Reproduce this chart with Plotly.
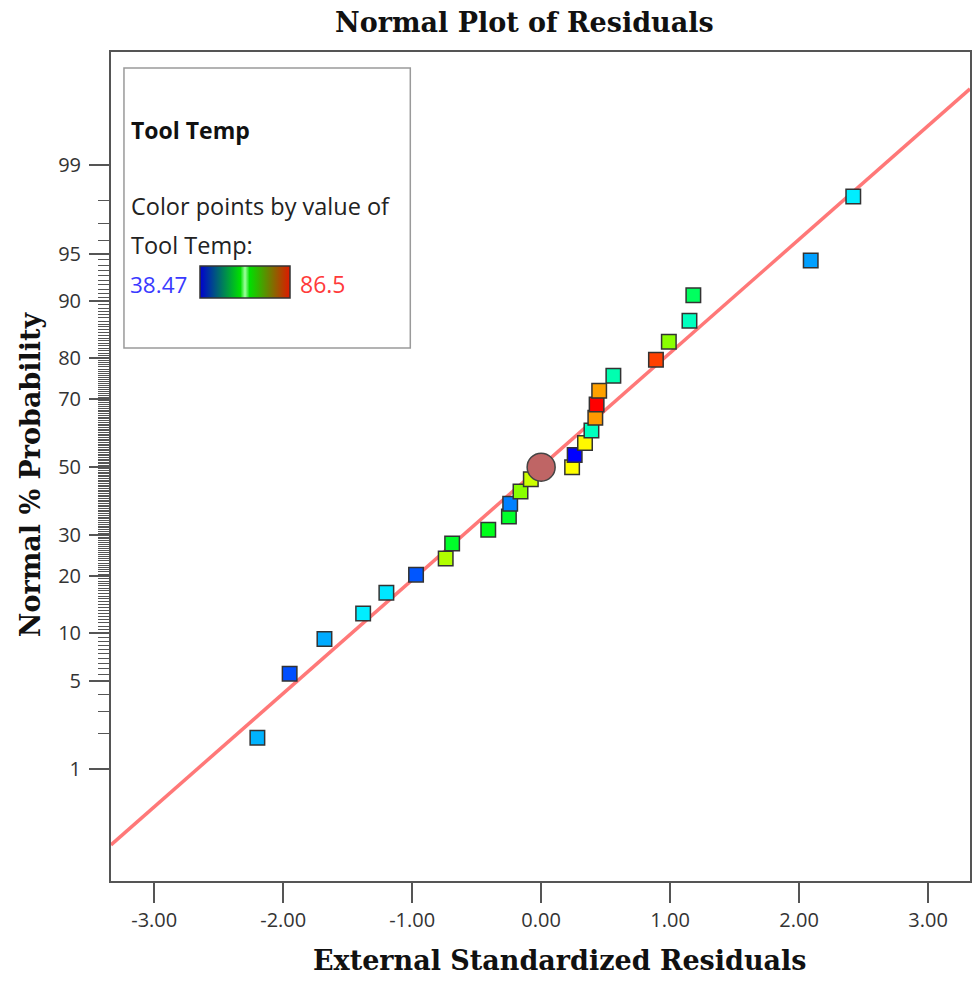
import statistics
import plotly.graph_objects as go

# --- data -------------------------------------------------------------------
# externally studentized residuals, sorted ascending
residuals = [-2.20, -1.95, -1.68, -1.38, -1.20, -0.97, -0.74, -0.69, -0.41,
             -0.25, -0.24, -0.16, -0.08, 0.24, 0.26, 0.34, 0.39, 0.42, 0.43,
             0.45, 0.56, 0.89, 0.99, 1.15, 1.18, 2.09, 2.42]
# normal % probability of each ranked residual
normal_pct = [1.85, 5.56, 9.26, 12.96, 16.67, 20.37, 24.07, 27.78, 31.48,
              35.19, 38.89, 42.59, 46.30, 50.00, 53.70, 57.41, 61.11, 64.81,
              68.52, 72.22, 75.93, 79.63, 83.33, 87.04, 90.74, 94.44, 98.15]
# Tool Temp of each run (colour variable)
tool_temp = [46.9, 42.2, 46.5, 49.7, 49.3, 42.5, 70.8, 60.5, 61.3,
             60.5, 44.5, 68.9, 72.1, 74.5, 38.47, 74.8, 53.5, 79.3, 86.5,
             78.9, 54.2, 83.5, 69.0, 53.5, 58.0, 46.0, 49.7]
temp_min, temp_max = 38.47, 86.5

# highlighted point
mark_resid, mark_pct = [0.0], [50.0]

# reference line (probit units vs residual)
line_slope, line_intercept = 0.875, 0.006

# axis ticks
x_tickvals = [-3, -2, -1, 0, 1, 2, 3]
x_ticktext = ["-3.00", "-2.00", "-1.00", "0.00", "1.00", "2.00", "3.00"]
y_major_pct = [1, 5, 10, 20, 30, 50, 70, 80, 90, 95, 99]

# --- helpers ----------------------------------------------------------------
nd = statistics.NormalDist()


def probit(p):
    return nd.inv_cdf(p / 100.0)


W, H = 976, 985
ML, MR, MT, MB = 111, 4, 52, 104
PW, PH = W - ML - MR, H - MT - MB
X_RANGE = [-3.335, 3.325]
Y_RANGE = [-3.19, 3.20]


def px_x(px):
    return (px - ML) / PW


def px_y(py):
    return (H - MB - py) / PH


# minor ticks: 2-4 %, half-percent steps 5-95 %, 96-98 %
minor_pct = [2, 3, 4]
k = 11
while k < 190:
    v = k / 2.0
    if v not in y_major_pct:
        minor_pct.append(v)
    k += 1
minor_pct += [96, 97, 98]

rainbow = [[0.0, "#0000ff"], [0.25, "#00ffff"], [0.5, "#00ff00"],
           [0.75, "#ffff00"], [1.0, "#ff0000"]]
legend_scale = [[0.0, "#0000d0"], [0.45, "#00e000"], [0.5, "#a0ffa0"],
                [0.55, "#00e000"], [1.0, "#e01800"]]

fig = go.Figure()

# reference line
fig.add_trace(go.Scatter(
    x=X_RANGE,
    y=[line_slope * v + line_intercept for v in X_RANGE],
    mode="lines", line=dict(color="#ff7878", width=3.5),
    hoverinfo="skip", showlegend=False))

# residual points coloured by Tool Temp
fig.add_trace(go.Scatter(
    x=residuals, y=[probit(p) for p in normal_pct], mode="markers",
    marker=dict(symbol="square", size=14.5, color=tool_temp,
                colorscale=rainbow, cmin=temp_min, cmax=temp_max,
                line=dict(color="#333333", width=1.5)),
    showlegend=False))

# highlighted circle
fig.add_trace(go.Scatter(
    x=mark_resid, y=[probit(p) for p in mark_pct], mode="markers",
    marker=dict(symbol="circle", size=28, color="#bf6565",
                line=dict(color="#444444", width=1.5)),
    showlegend=False))

# colour key bar
fig.add_trace(go.Scatter(
    x=[None, None], y=[None, None], mode="markers",
    marker=dict(color=[temp_min, temp_max], colorscale=legend_scale,
                cmin=temp_min, cmax=temp_max, showscale=True,
                colorbar=dict(orientation="h", lenmode="pixels", len=90,
                              thicknessmode="pixels", thickness=32,
                              x=px_x(200), xanchor="left",
                              y=px_y(266), yanchor="top",
                              xpad=0, ypad=0, outlinewidth=1.5,
                              outlinecolor="#333333", showticklabels=False,
                              ticks="", bgcolor="rgba(0,0,0,0)")),
    showlegend=False, hoverinfo="skip"))

tick_font = dict(family="Open Sans", size=20, color="#333333")

fig.update_xaxes(
    range=X_RANGE, tickvals=x_tickvals, ticktext=x_ticktext,
    ticks="outside", ticklen=20, tickwidth=1.5, tickcolor="#555555",
    tickfont=tick_font, showgrid=False, zeroline=False,
    showline=True, linecolor="#555555", linewidth=2, mirror=True)

fig.update_yaxes(
    range=Y_RANGE, tickvals=[probit(p) for p in y_major_pct],
    ticktext=[str(p) for p in y_major_pct],
    ticks="outside", ticklen=20, tickwidth=1.5, tickcolor="#555555",
    tickfont=tick_font, ticklabelstandoff=4, showgrid=False, zeroline=False,
    showline=True, linecolor="#555555", linewidth=2, mirror=True,
    minor=dict(tickmode="array", tickvals=[probit(p) for p in minor_pct],
               ticks="outside", ticklen=11, tickwidth=1,
               tickcolor="#555555", showgrid=False))

# key box
fig.add_shape(type="rect", xref="paper", yref="paper",
              x0=px_x(124), x1=px_x(411), y0=px_y(348), y1=px_y(68),
              line=dict(color="#9a9a9a", width=1.5), fillcolor="white",
              layer="below")

serif = dict(family="DejaVu Serif", size=27, color="#111111")
sans = "Open Sans"
notes = [
    dict(text="<b>Normal Plot of Residuals</b>", x=px_x(525), y=px_y(23),
         xanchor="center", font=serif),
    dict(text="<b>External Standardized Residuals</b>", x=px_x(561),
         y=px_y(960), xanchor="center", font=serif),
    dict(text="<b>Normal % Probability</b>", x=px_x(30), y=px_y(474),
         xanchor="center", textangle=-90, font=serif),
    dict(text="<b>Tool Temp</b>", x=px_x(129), y=px_y(130), xanchor="left",
         font=dict(family=sans, size=23, color="#111111")),
    dict(text="Color points by value of", x=px_x(129), y=px_y(206),
         xanchor="left", font=dict(family=sans, size=23.5, color="#222222")),
    dict(text="Tool Temp:", x=px_x(129), y=px_y(245), xanchor="left",
         font=dict(family=sans, size=23.5, color="#222222")),
    dict(text=f"{temp_min}", x=px_x(128), y=px_y(284), xanchor="left",
         font=dict(family=sans, size=22.5, color="#3a3aff")),
    dict(text=f"{temp_max}", x=px_x(298), y=px_y(284), xanchor="left",
         font=dict(family=sans, size=23, color="#ff3a3a")),
]
for n in notes:
    n.update(xref="paper", yref="paper", yanchor="middle", showarrow=False)
    fig.add_annotation(**n)

fig.update_layout(
    width=W, height=H, margin=dict(l=ML, r=MR, t=MT, b=MB, pad=0),
    paper_bgcolor="white", plot_bgcolor="white", showlegend=False)

fig.write_html("out.html")
